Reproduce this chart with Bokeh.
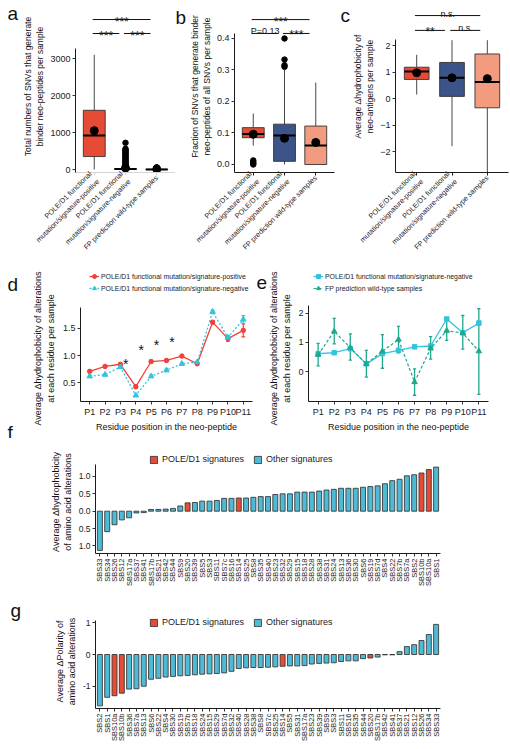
import math
from bokeh.plotting import figure
from bokeh.models import Range1d, FixedTicker, Legend, LegendItem, ColumnDataSource
from bokeh.layouts import column, row
from bokeh.embed import file_html
from bokeh.resources import INLINE
from bokeh.core.properties import value

FONT = "Liberation Sans"
RED = "#E64B35"; NAVY = "#3C5488"; SALMON = "#F39B7F"; CYAN_BAR = "#4DBBD5"
D_RED = "#F2413A"; D_CYAN = "#33C3DE"; E_TEAL = "#1FA98B"

# ---------------- data ----------------
groups = ["POLE/D1 functional\nmutation/signature-positive",
          "POLE/D1 functional\nmutation/signature-negative",
          "FP prediction wild-type samples"]
box_colors = [RED, NAVY, SALMON]

# panel a: total SNVs generating binder neo-peptides
a_q1 = [350, 2, 0]
a_med = [920, 12, 3]
a_q3 = [1600, 25, 8]
a_lo = [0, 0, 0]
a_hi = [3100, 60, 20]
a_mean = [1050, 40, 10]
a_out_grp = [2] * 19 + [3] * 4
a_out_val = [720, 560, 530, 500, 470, 440, 410, 380, 350, 320, 290, 260, 230, 200, 175, 150, 125, 100, 80,
             30, 40, 50, 60]

# panel b: fraction of SNVs
b_q1 = [0.085, 0.01, 0.0]
b_med = [0.097, 0.092, 0.06]
b_q3 = [0.117, 0.128, 0.122]
b_lo = [0.06, 0.0, 0.0]
b_hi = [0.162, 0.30, 0.26]
b_mean = [0.096, 0.083, 0.07]
b_out_grp = [1, 1, 1, 1, 2, 2, 2, 2]
b_out_val = [0.0, 0.004, 0.008, 0.013, 0.31, 0.315, 0.333, 0.40]

# panel c: average delta hydrophobicity
c_q1 = [0.72, 0.08, -0.35]
c_med = [1.02, 0.78, 0.62]
c_q3 = [1.18, 1.36, 1.68]
c_lo = [0.15, -1.8, -2.85]
c_hi = [1.65, 2.2, 2.2]
c_mean = [0.97, 0.78, 0.75]

sig_a = [(1, 3, "***"), (1, 2, "***"), (2, 3, "***")]
sig_b = [(1, 3, "***"), (1, 2, "P=0.13"), (2, 3, "***")]
sig_c = [(1, 3, "n.s."), (1, 2, "**"), (2, 3, "n.s.")]

# panels d / e
residues = ["P1", "P2", "P3", "P4", "P5", "P6", "P7", "P8", "P9", "P10", "P11"]
d_pos = [0.71, 0.80, 0.84, 0.43, 0.89, 0.91, 0.99, 0.85, 1.61, 1.31, 1.46]
d_pos_err = [0.02, 0.02, 0.02, 0.03, 0.02, 0.02, 0.02, 0.02, 0.03, 0.05, 0.12]
d_neg = [0.62, 0.65, 0.79, 0.27, 0.62, 0.73, 0.85, 0.88, 1.80, 1.33, 1.66]
d_neg_err = [0.02, 0.02, 0.02, 0.02, 0.02, 0.02, 0.02, 0.02, 0.03, 0.03, 0.07]
star_res = [4, 5, 6, 7]
star_val = [0.92, 1.18, 1.27, 1.32]
e_fp = [0.58, 1.38, 0.82, 0.27, 0.70, 1.10, -0.35, 0.80, 1.40, 1.32, 0.70]
e_fp_lo = [0.20, 0.95, 0.40, -0.18, 0.12, 0.65, -0.80, 0.43, 1.07, 0.77, -0.77]
e_fp_hi = [0.97, 1.82, 1.29, 0.73, 1.27, 1.55, 0.10, 1.20, 1.77, 1.92, 2.15]
de_ylabel = ["Average \u0394hydrophobicity of alterations", "at each residue per sample"]

# panel f: hydrophobicity per signature
f_sigs = ["SBS33", "SBS34", "SBS26", "SBS12", "SBS17a", "SBS37", "SBS41", "SBS17b", "SBS21", "SBS42",
          "SBS44", "SBS9", "SBS20", "SBS39", "SBS5", "SBS3", "SBS11", "SBS7c", "SBS16", "SBS14",
          "SBS25", "SBS8", "SBS35", "SBS40", "SBS23", "SBS32", "SBS29", "SBS15", "SBS18", "SBS28",
          "SBS38", "SBS31", "SBS24", "SBS13", "SBS36", "SBS30", "SBS6", "SBS19", "SBS7d", "SBS4",
          "SBS22", "SBS7b", "SBS7a", "SBS2", "SBS10b", "SBS10a", "SBS1"]
f_vals = [-1.13, -0.59, -0.39, -0.25, -0.19, -0.05, -0.04, 0.05, 0.05, 0.06,
          0.08, 0.15, 0.24, 0.25, 0.29, 0.29, 0.31, 0.37, 0.37, 0.38,
          0.38, 0.40, 0.42, 0.42, 0.48, 0.50, 0.50, 0.55, 0.55, 0.55,
          0.58, 0.61, 0.63, 0.66, 0.66, 0.66, 0.69, 0.71, 0.73, 0.79,
          0.88, 0.92, 1.02, 1.05, 1.10, 1.20, 1.27]

# panel g: polarity per signature
g_sigs = ["SBS2", "SBS1", "SBS10a", "SBS10b", "SBS36", "SBS7a", "SBS13", "SBS6", "SBS22", "SBS4",
          "SBS30", "SBS19", "SBS7b", "SBS18", "SBS24", "SBS15", "SBS29", "SBS7d", "SBS32", "SBS40",
          "SBS28", "SBS38", "SBS8", "SBS7c", "SBS25", "SBS14", "SBS5", "SBS31", "SBS17a", "SBS23",
          "SBS39", "SBS9", "SBS3", "SBS11", "SBS16", "SBS35", "SBS44", "SBS20", "SBS17b", "SBS42",
          "SBS41", "SBS37", "SBS21", "SBS12", "SBS26", "SBS34", "SBS33"]
g_vals = [-1.62, -1.35, -1.30, -1.22, -1.09, -1.08, -1.00, -0.78, -0.75, -0.71,
          -0.69, -0.67, -0.66, -0.64, -0.62, -0.61, -0.60, -0.58, -0.53, -0.44,
          -0.42, -0.41, -0.41, -0.40, -0.39, -0.37, -0.36, -0.36, -0.35, -0.30,
          -0.28, -0.27, -0.26, -0.22, -0.20, -0.20, -0.13, -0.11, -0.08, -0.01,
          -0.01, 0.09, 0.25, 0.31, 0.44, 0.63, 0.95]
pole_sigs = ["SBS10a", "SBS10b", "SBS14", "SBS20"]


# ---------------- helpers ----------------
def style(p, tick_size="9px", label_size="9px"):
    p.outline_line_color = None
    p.xgrid.visible = False
    p.ygrid.visible = False
    p.border_fill_color = "white"
    for ax in p.axis:
        ax.axis_line_color = "#1a1a1a"
        ax.axis_line_width = 1
        ax.major_tick_line_color = "#333333"
        ax.major_tick_out = 3
        ax.major_tick_in = 0
        ax.minor_tick_line_color = None
        ax.major_label_text_font = FONT
        ax.axis_label_text_font = FONT
        ax.major_label_text_color = "#222222"
        ax.axis_label_text_color = "#111111"
        ax.axis_label_text_font_style = "normal"
        ax.major_label_text_font_size = tick_size
        ax.axis_label_text_font_size = label_size
        ax.major_label_standoff = 2
        ax.axis_label_standoff = 2


def text_fig(width, height, texts):
    """Narrow strip holding panel letters / rotated titles; coordinates are pixels from its bottom-left."""
    p = figure(width=width, height=height, output_backend="svg", toolbar_location=None,
               x_range=Range1d(0, width), y_range=Range1d(0, height),
               x_axis_type=None, y_axis_type=None, frame_align=False,
               min_border_left=0, min_border_right=0, min_border_top=0, min_border_bottom=0)
    p.outline_line_color = None
    p.border_fill_color = "white"
    p.grid.visible = False
    for (x, y, txt, size, angle, align, base) in texts:
        p.text(x=[x], y=[y], text=[txt], angle=angle, text_align=align, text_baseline=base,
               text_font=value(FONT), text_font_size=size, text_color="#111111")
    return p


def box_panel(width, mb_left, mb_right, yr, ybounds, yticks, ylabel,
              q1, med, q3, lo, hi, mean, out_grp, out_val, sigs, sig_y,
              tick_fmt=None, xaxis_color="#1a1a1a"):
    p = figure(width=width, height=270, output_backend="svg", toolbar_location=None,
               x_range=Range1d(0.4, 3.6), y_range=Range1d(*yr), frame_align=False,
               min_border_left=mb_left, min_border_right=mb_right,
               min_border_top=0, min_border_bottom=98)
    style(p, tick_size="9px", label_size="8.5px")
    xs = [1, 2, 3]
    src = ColumnDataSource(dict(x=xs, q1=q1, q3=q3, med=med, lo=lo, hi=hi, mean=mean,
                                color=box_colors, x0=[v - 0.35 for v in xs], x1=[v + 0.35 for v in xs]))
    p.segment(x0="x", y0="lo", x1="x", y1="q1", source=src, line_color="#333333", line_width=0.9)
    p.segment(x0="x", y0="q3", x1="x", y1="hi", source=src, line_color="#333333", line_width=0.9)
    p.vbar(x="x", bottom="q1", top="q3", width=0.7, source=src, fill_color="color",
           line_color="#333333", line_width=0.9)
    p.segment(x0="x0", y0="med", x1="x1", y1="med", source=src, line_color="black", line_width=2)
    if out_val:
        p.scatter(x=out_grp, y=out_val, size=5.5, color="black")
    p.scatter(x="x", y="mean", source=src, size=8, color="black")
    # significance brackets
    for (i, j, lab), yv in zip(sigs, sig_y):
        p.line([i - 0.05, j - 0.2], [yv, yv], line_color="#111111", line_width=1)
        stars = "*" in lab
        p.text(x=[(i + j) / 2 - 0.12], y=[yv], text=[lab], text_align="center",
               text_baseline="alphabetic", y_offset=(2 if stars else -2),
               text_font=value(FONT), text_font_size=("12px" if stars else "9px"),
               text_color="#111111")
    p.yaxis.bounds = ybounds
    p.yaxis.ticker = FixedTicker(ticks=yticks)
    if tick_fmt:
        p.yaxis.major_label_overrides = tick_fmt
    p.yaxis.axis_label = ylabel
    p.xaxis.ticker = FixedTicker(ticks=xs)
    p.xaxis.major_label_overrides = {k: g for k, g in zip(xs, groups)}
    p.xaxis.major_label_orientation = math.pi / 4
    p.xaxis.major_label_text_font_size = "7.2px"
    p.xaxis.major_label_standoff = 1
    p.xaxis.axis_line_color = xaxis_color
    p.xaxis.major_tick_line_color = xaxis_color
    return p


# ---------------- row 1 (a, b, c) ----------------
fa = text_fig(20, 270, [(7, 257, "a", "19px", 0, "left", "alphabetic")])
pa = box_panel(155, 48, 0, (-81, 4568), (-81, 3270), [0, 1000, 2000, 3000],
               "Total numbers of SNVs that generate\nbinder neo-peptides per sample",
               a_q1, a_med, a_q3, a_lo, a_hi, a_mean, a_out_grp, a_out_val,
               sig_a, [4054, 3676, 3676], xaxis_color="#d5d5d5")
fb = text_fig(11, 270, [(0, 253, "b", "19px", 0, "left", "alphabetic")])
pb = box_panel(154, 41, 6, (-0.0254, 0.5206), (-0.0254, 0.415), [0.0, 0.1, 0.2, 0.3, 0.4],
               "Fraction of SNVs that generate binder\nneo-peptides of all SNVs per sample",
               b_q1, b_med, b_q3, b_lo, b_hi, b_mean, b_out_grp, b_out_val,
               sig_b, [0.460, 0.416, 0.416],
               tick_fmt={0.0: "0.0", 0.1: "0.1", 0.2: "0.2", 0.3: "0.3", 0.4: "0.4"})
fc = text_fig(10, 270, [(0, 255, "c", "19px", 0, "left", "alphabetic")])
pc = box_panel(160, 38, 2, (-2.792, 3.698), (-2.792, 2.23), [-2, -1, 0, 1, 2],
               "Average \u0394hydrophobicity of\nneo-antigens per sample",
               c_q1, c_med, c_q3, c_lo, c_hi, c_mean, [], [],
               sig_c, [3.13, 2.57, 2.57])

# ---------------- row 2 (d, e) ----------------
xs11 = list(range(1, len(residues) + 1))
res_over = {i: r for i, r in zip(xs11, residues)}


def line_panel(width, mb_left, mb_right, yr, ybounds, yticks, ylabels):
    p = figure(width=width, height=168, output_backend="svg", toolbar_location=None,
               x_range=Range1d(0.4, 11.6), y_range=Range1d(*yr), frame_align=False,
               min_border_left=mb_left, min_border_right=mb_right,
               min_border_top=0, min_border_bottom=37)
    style(p, tick_size="9px", label_size="9px")
    p.xaxis.ticker = FixedTicker(ticks=xs11)
    p.xaxis.major_label_overrides = res_over
    p.xaxis.axis_label = "Residue position in the neo-peptide"
    p.yaxis.bounds = ybounds
    p.yaxis.ticker = FixedTicker(ticks=yticks)
    p.yaxis.major_label_overrides = ylabels
    return p


def errbars(p, xs, lo, hi, color, cap=0.12, lw=1.2):
    p.segment(x0=xs, y0=lo, x1=xs, y1=hi, line_color=color, line_width=lw)
    p.segment(x0=[x - cap for x in xs], y0=lo, x1=[x + cap for x in xs], y1=lo, line_color=color, line_width=lw)
    p.segment(x0=[x - cap for x in xs], y0=hi, x1=[x + cap for x in xs], y1=hi, line_color=color, line_width=lw)


def line_legend(p, items, vx):
    p.add_layout(Legend(items=items, location=(vx, 107), orientation="vertical", padding=0, margin=0,
                        spacing=0, label_height=12, glyph_height=12, glyph_width=10, label_standoff=2,
                        label_text_font=FONT, label_text_font_size="6.9px", label_text_color="#222222",
                        border_line_color=None, background_fill_alpha=0))


fd = text_fig(59, 168, [(7, 154, "d", "19px", 0, "left", "alphabetic"),
                        (37, 90, de_ylabel[0], "9px", math.pi / 2, "center", "middle"),
                        (50, 90, de_ylabel[1], "9px", math.pi / 2, "center", "middle"),
                        (7, 6, "f", "19px", 0, "left", "alphabetic")])
pd_ = line_panel(196, 18, 3, (0.159, 2.555), (0.159, 1.878), [0.5, 1.0, 1.5],
                 {0.5: "0.5", 1.0: "1.0", 1.5: "1.5"})
errbars(pd_, xs11, [v - e for v, e in zip(d_pos, d_pos_err)], [v + e for v, e in zip(d_pos, d_pos_err)], D_RED)
errbars(pd_, xs11, [v - e for v, e in zip(d_neg, d_neg_err)], [v + e for v, e in zip(d_neg, d_neg_err)], D_CYAN)
l1 = pd_.line(xs11, d_pos, line_color=D_RED, line_width=1.3)
s1 = pd_.scatter(xs11, d_pos, marker="circle", size=4.5, color=D_RED)
l2 = pd_.line(xs11, d_neg, line_color=D_CYAN, line_width=1.3, line_dash="2 2")
s2 = pd_.scatter(xs11, d_neg, marker="triangle", size=5.5, color=D_CYAN)
pd_.text(x=star_res, y=star_val, text=["*"] * len(star_res), x_offset=-10, y_offset=4, text_align="center",
         text_baseline="middle", text_font=value(FONT), text_font_size="14px", text_color="#111111")
line_legend(pd_, [LegendItem(label="POLE/D1 functional mutation/signature-positive", renderers=[l1, s1]),
                  LegendItem(label="POLE/D1 functional mutation/signature-negative", renderers=[l2, s2])], 9)

fe = text_fig(40, 168, [(1, 156, "e", "19px", 0, "left", "alphabetic"),
                        (18, 90, de_ylabel[0], "9px", math.pi / 2, "center", "middle"),
                        (31, 90, de_ylabel[1], "9px", math.pi / 2, "center", "middle")])
pe = line_panel(215, 10, 22, (-1.013, 3.454), (-1.013, 2.26), [0, 1, 2], {0: "0", 1: "1", 2: "2"})
errbars(pe, xs11, e_fp_lo, e_fp_hi, E_TEAL, cap=0.1, lw=1.3)
errbars(pe, xs11, [v - e for v, e in zip(d_neg, d_neg_err)], [v + e for v, e in zip(d_neg, d_neg_err)], D_CYAN)
l3 = pe.line(xs11, d_neg, line_color=D_CYAN, line_width=1.3)
s3 = pe.scatter(xs11, d_neg, marker="square", size=4.5, color=D_CYAN)
l4 = pe.line(xs11, e_fp, line_color=E_TEAL, line_width=1.2, line_dash="3 2")
s4 = pe.scatter(xs11, e_fp, marker="triangle", size=5.5, color=E_TEAL)
line_legend(pe, [LegendItem(label="POLE/D1 functional mutation/signature-negative", renderers=[l3, s3]),
                 LegendItem(label="FP prediction wild-type samples", renderers=[l4, s4])], 5)


# ---------------- rows 3 / 4 (f, g) ----------------
def bar_panel(width, height, mb_left, mb_top, mb_bottom, yr, ybounds, yticks, yover, ylabel, sigs, vals, leg_y):
    p = figure(width=width, height=height, output_backend="svg", toolbar_location=None,
               x_range=Range1d(0.4, len(sigs) + 0.6), y_range=Range1d(*yr), frame_align=False,
               min_border_left=mb_left, min_border_right=70, min_border_top=mb_top, min_border_bottom=mb_bottom)
    style(p, tick_size="8.5px", label_size="9px")
    xs = list(range(1, len(sigs) + 1))
    red = dict(x=[x for x, s in zip(xs, sigs) if s in pole_sigs], y=[v for v, s in zip(vals, sigs) if s in pole_sigs])
    oth = dict(x=[x for x, s in zip(xs, sigs) if s not in pole_sigs], y=[v for v, s in zip(vals, sigs) if s not in pole_sigs])
    r1 = p.vbar(x=red["x"], top=red["y"], bottom=0, width=0.68, fill_color=RED, line_color="#3a3a3a", line_width=0.9)
    r2 = p.vbar(x=oth["x"], top=oth["y"], bottom=0, width=0.68, fill_color=CYAN_BAR, line_color="#3a3a3a", line_width=0.9)
    leg = Legend(items=[LegendItem(label="POLE/D1 signatures", renderers=[r1]),
                        LegendItem(label="Other signatures", renderers=[r2])],
                 location=(54, leg_y), orientation="horizontal", padding=0, margin=0, spacing=9,
                 label_height=10, glyph_height=9, glyph_width=9, label_standoff=4,
                 label_text_font=FONT, label_text_font_size="9px", label_text_color="#222222",
                 border_line_color=None, background_fill_alpha=0)
    p.add_layout(leg)
    p.xaxis.ticker = FixedTicker(ticks=xs)
    p.xaxis.major_label_overrides = {x: s for x, s in zip(xs, sigs)}
    p.xaxis.major_label_orientation = math.pi / 2
    p.xaxis.major_label_text_font_size = "7.5px"
    p.yaxis.bounds = ybounds
    p.yaxis.ticker = FixedTicker(ticks=yticks)
    p.yaxis.major_label_overrides = yover
    p.yaxis.axis_label = ylabel
    p.yaxis.axis_label_standoff = 3
    return p


pf = bar_panel(510, 160, 95, 12, 45, (-1.219, 1.749), (-1.219, 1.35), [-1.0, -0.5, 0.0, 0.5, 1.0],
               {-1.0: "1.0", -0.5: "0.5", 0.0: "0.0", 0.5: "0.5", 1.0: "1.0"},
               "Average \u0394hydrophobicity\nof amino acid alterations", f_sigs, f_vals, 89)

fg = text_fig(22, 151, [(10, 139, "g", "19px", 0, "left", "alphabetic")])
pg = bar_panel(488, 151, 73, 16, 41, (-1.703, 1.262), (-1.703, 1.07), [-1, 0, 1],
               {-1: "-1", 0: "0", 1: "1"},
               "Average \u0394Polarity of\namino acid alterations", g_sigs, g_vals, 81)

layout = column(row(fa, pa, fb, pb, fc, pc, spacing=0),
                row(fd, pd_, fe, pe, spacing=0),
                pf,
                row(fg, pg, spacing=0), spacing=0)
open("out.html", "w").write(file_html(layout, INLINE))
